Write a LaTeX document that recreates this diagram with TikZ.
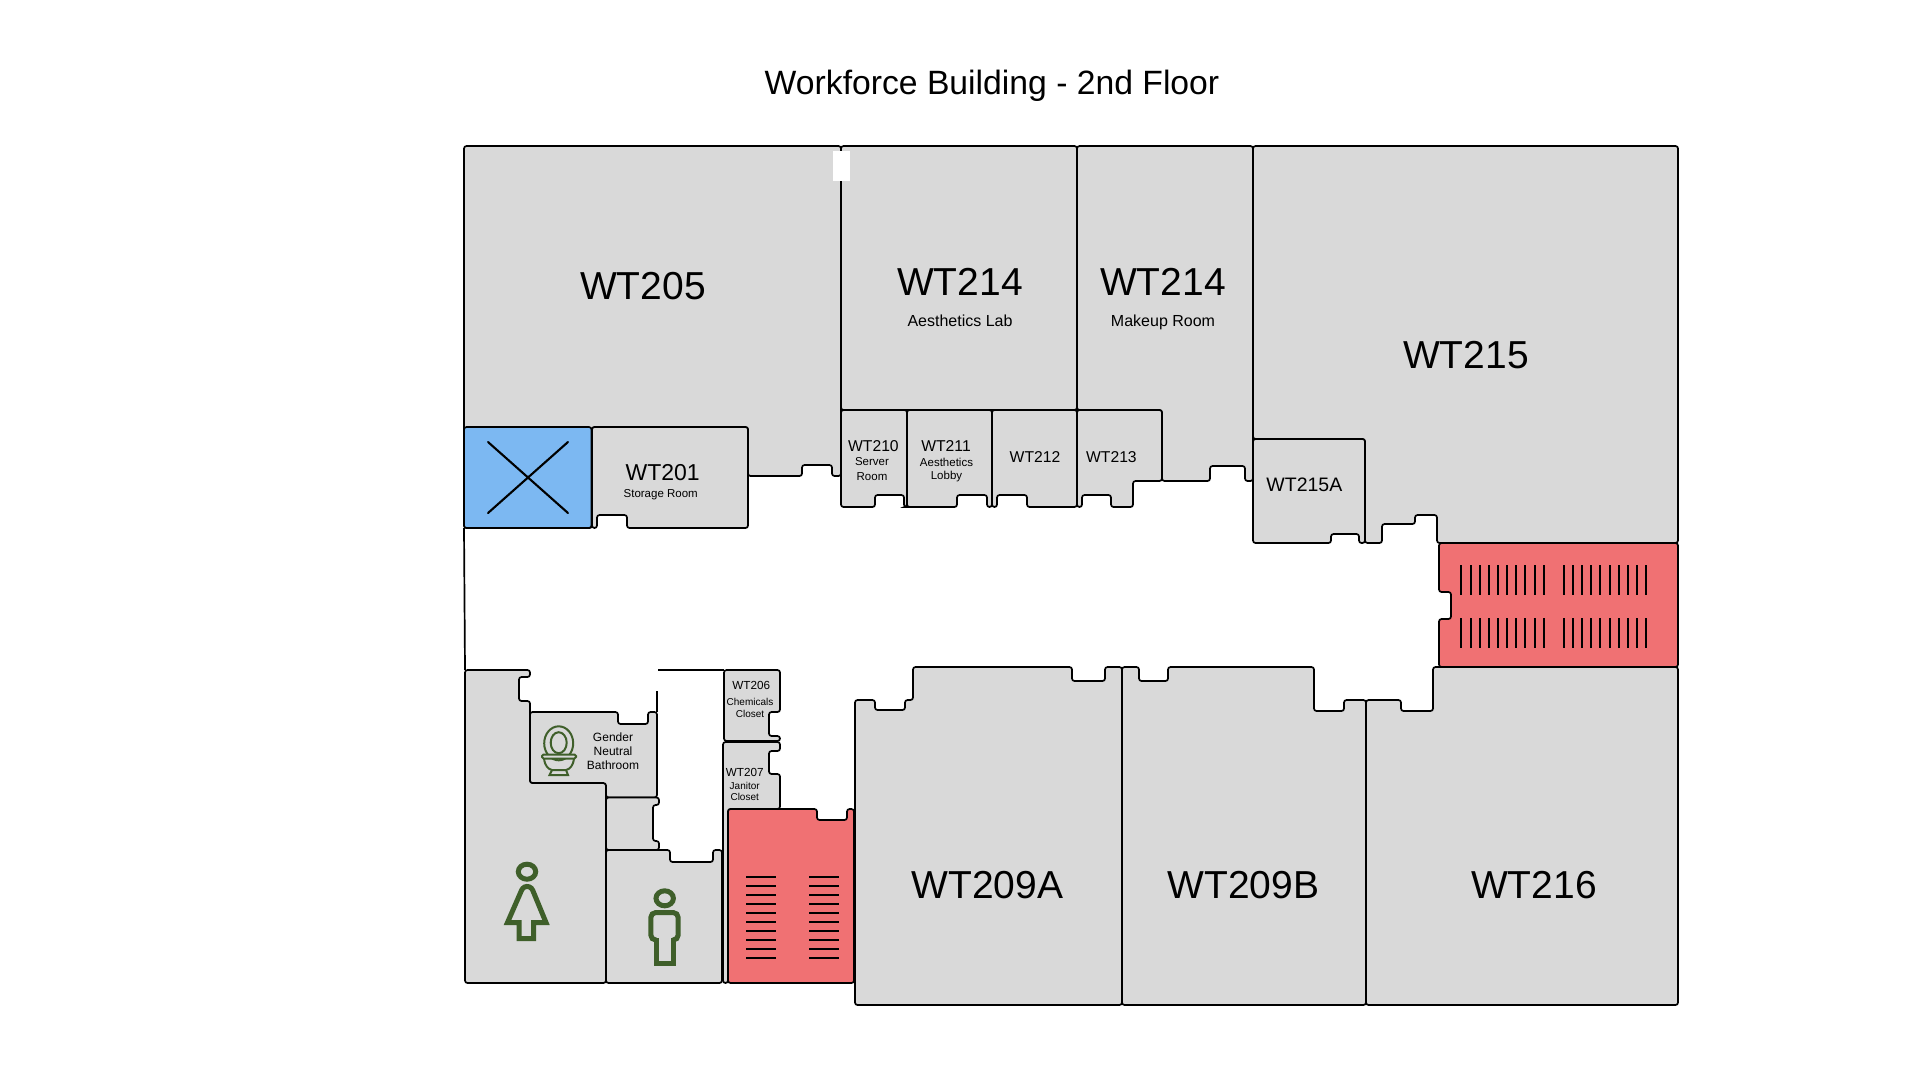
\documentclass[tikz,border=0pt]{standalone}
\usepackage{fontspec}
\setmainfont{Liberation Sans}
\tikzset{
 room/.style={draw=black,line width=1.7pt,fill=roomgray,rounded corners=2.5pt},
 stairs/.style={room,fill=stairred},
 wall/.style={draw=black,line width=1.7pt},
 tread/.style={draw=black,line width=1.8pt},
 figure/.style={draw=icongreen,line width=5pt,line join=miter},
 fixture/.style={draw=icongreen,line width=2pt},
 bigroom/.style={font=\fontsize{39}{39}\selectfont,inner sep=0pt},
 midroom/.style={font=\fontsize{15.7}{16}\selectfont,inner sep=0pt},
 tinyroom/.style={font=\fontsize{11.7}{12}\selectfont,inner sep=0pt},
 caption/.style={font=\fontsize{11.5}{12}\selectfont,inner sep=0pt},
 tinycaption/.style={font=\fontsize{10}{11}\selectfont,inner sep=0pt}
}
\definecolor{roomgray}{HTML}{D9D9D9}
\definecolor{stairred}{HTML}{F07173}
\definecolor{liftblue}{HTML}{7CB8F2}
\definecolor{icongreen}{HTML}{3F5F2A}
\begin{document}
\begin{tikzpicture}[x=1pt,y=-1pt]
 \useasboundingbox (0,0) rectangle (1920,1080);
 \node[font=\fontsize{33.7}{34}\selectfont,inner sep=0pt] (title) at (992,86) {Workforce Building - 2nd Floor};

 \draw[room] (464,146)--(841,146)--(841,476)--(832,476)--(832,465)--(802,465)--(802,476)--(748,476)--(748,427)--(592,427)--(592,528)--(464,528)--cycle;
 \draw[room] (841,146)--(1077,146)--(1077,410)--(841,410)--cycle;
 \draw[room] (1077,146)--(1253,146)--(1253,481)--(1245,481)--(1245,466)--(1210,466)--(1210,481)--(1162,481)--(1162,410)--(1077,410)--cycle;
 \draw[room] (1253,146)--(1678,146)--(1678,543)--(1437,543)--(1437,515)--(1415,515)--(1415,524)--(1382,524)--(1382,543)--(1365,543)--(1365,439)--(1253,439)--cycle;
 \fill[white] (833,151) rectangle (850,181);

 \draw[room] (841,410)--(907,410)--(907,507)--(904,507)--(904,495)--(875,495)--(875,507)--(841,507)--cycle;
 \draw[room] (907,410)--(992,410)--(992,507)--(987,507)--(987,495)--(957,495)--(957,507)--(907,507)--cycle;
 \draw[room] (992,410)--(1077,410)--(1077,507)--(1027,507)--(1027,495)--(997,495)--(997,507)--(992,507)--cycle;
 \draw[room] (1077,410)--(1162,410)--(1162,481)--(1133,481)--(1133,507)--(1111,507)--(1111,495)--(1082,495)--(1082,507)--(1077,507)--cycle;
 \draw[room] (1253,439)--(1365,439)--(1365,543)--(1359,543)--(1359,534)--(1331,534)--(1331,543)--(1253,543)--cycle;

 \draw[room,fill=liftblue] (464,427)--(591.5,427)--(591.5,528)--(464,528)--cycle;
 \draw[wall,line width=2.1pt,line cap=round] (488,513)--(568,442);
 \draw[wall,line width=2.1pt,line cap=round] (488,442)--(568,513);
 \draw[room] (592,427)--(748,427)--(748,528)--(627,528)--(627,515)--(597,515)--(597,528)--(592,528)--cycle;

 \draw[stairs] (1439,543)--(1678,543)--(1678,667)--(1439,667)--(1439,619)--(1451,619)--(1451,592)--(1439,592)--cycle;
 \foreach \xa in {1461.4,1563.8}
  \foreach \i in {0,...,9}{
   \pgfmathsetmacro\xt{round(\xa+\i*9.15)}
   \draw[tread] (\xt,565)--(\xt,595);
   \draw[tread] (\xt,618)--(\xt,648);
  }

 \draw[room] (1678,667)--(1678,1005)--(1366,1005)--(1366,700)--(1401,700)--(1401,711)--(1433,711)--(1433,667)--cycle;
 \draw[room] (1122,667)--(1139,667)--(1139,681)--(1168,681)--(1168,667)--(1314,667)--(1314,711)--(1344,711)--(1344,700)--(1366,700)--(1366,1005)--(1122,1005)--cycle;
 \draw[room] (855,700)--(875,700)--(875,710)--(905,710)--(905,700)--(913,700)--(913,667)--(1072,667)--(1072,681)--(1105,681)--(1105,667)--(1122,667)--(1122,1005)--(855,1005)--cycle;

 \draw[wall] (464,528)--(465,670);
 \draw[wall] (658,670)--(724,670);
 \draw[wall] (657,691)--(657,712);

 \draw[room] (465,670)--(530,670)--(530,677)--(519,677)--(519,701)--(530,701)--(530,783)--(606,783)--(606,983)--(465,983)--cycle;
 \draw[room] (530,712)--(618,712)--(618,724)--(648,724)--(648,712)--(657,712)--(657,797.5)--(606,797.5)--(606,783)--(530,783)--cycle;
 \draw[room] (606,797.5)--(659,797.5)--(659,805)--(653,805)--(653,841)--(659,841)--(659,850)--(606,850)--cycle;
 \draw[room] (606,850)--(670,850)--(670,862)--(713,862)--(713,850)--(722,850)--(722,983)--(606,983)--cycle;
 \draw[room] (724,670)--(780,670)--(780,712)--(769,712)--(769,736)--(780,736)--(780,741)--(724,741)--cycle;
 \draw[room] (723,742)--(780,742)--(780,751)--(769,751)--(769,774)--(780,774)--(780,809)--(728,809)--(728,983)--(723,983)--cycle;
 \draw[stairs] (728,809)--(817,809)--(817,820)--(847,820)--(847,809)--(854,809)--(854,983)--(728,983)--cycle;
 \foreach \ya in {0,...,9}{
  \draw[tread] (746,877+\ya*9)--(776,877+\ya*9);
  \draw[tread] (809,877+\ya*9)--(839,877+\ya*9);
 }

 \draw[figure] (527,871.7) ellipse (8.7 and 7.5);
 \draw[figure] (507.5,922.5)--(521.5,890.4) arc (200:340:6)--(546,922.5)--(533.5,922.5)--(533.5,938.5)--(519,938.5)--(519,922.5)--cycle;
 \draw[figure] (664.7,898.3) ellipse (8.7 and 7.5);
 \draw[figure,rounded corners=5pt] (656,940)--(650.8,940)--(650.8,912.5)--(678.2,912.5)--(678.2,940)--(673,940);
 \draw[figure] (656,938)--(656,963.2)--(673,963.2)--(673,938);

 \draw[fixture] (558.7,743.3) ellipse (14.5 and 17);
 \draw[fixture] (558.7,742.7) ellipse (8 and 10.5);
 \draw[fixture,fill=roomgray,rounded corners=1.5pt] (542,754.5) rectangle (576,758.5);
 \draw[fixture] (544,758.5) .. controls (545,766) and (548,769) .. (552,770)--(566,770) .. controls (570,769) and (573,766) .. (574,758.5);
 \draw[fixture] (552,770)--(549.5,775)--(568,775)--(566,770);

 \node[bigroom] (wt205) at (643,286.5) {WT205};
 \node[bigroom] (wt214a) at (960,281.7) {WT214};
 \node[font=\fontsize{16}{16}\selectfont,inner sep=0pt] (aesthlab) at (960,320.7) {Aesthetics Lab};
 \node[bigroom] (wt214b) at (1163,281.7) {WT214};
 \node[font=\fontsize{16}{16}\selectfont,inner sep=0pt] (makeup) at (1163,322.3) {Makeup Room};
 \node[bigroom] (wt215) at (1466,355) {WT215};
 \node[font=\fontsize{23}{23}\selectfont,inner sep=0pt] (wt201) at (662.7,473) {WT201};
 \node[caption] (storage) at (660.7,494.8) {Storage Room};
 \node[midroom] (wt210) at (873.4,445.7) {WT210};
 \node[caption] (server) at (872,462) {Server};
 \node[caption] (serverb) at (872,476.5) {Room};
 \node[midroom] (wt211) at (946,445.7) {WT211};
 \node[caption] (aesth) at (946.5,462) {Aesthetics};
 \node[caption] (lobby) at (946.5,476.5) {Lobby};
 \node[midroom] (wt212) at (1035,456.7) {WT212};
 \node[midroom] (wt213) at (1111.4,456.7) {WT213};
 \node[font=\fontsize{19.5}{20}\selectfont,inner sep=0pt] (wt215a) at (1304.4,485) {WT215A};
 \node[tinyroom] (wt206) at (751.3,685.7) {WT206};
 \node[tinycaption] (chem) at (750,701.7) {Chemicals};
 \node[tinycaption] (chemb) at (750,713.7) {Closet};
 \node[tinyroom] (wt207) at (744.7,772) {WT207};
 \node[tinycaption] (janitor) at (744.7,785.7) {Janitor};
 \node[tinycaption] (janitorb) at (744.7,797.3) {Closet};
 \node[font=\fontsize{12}{12}\selectfont,inner sep=0pt] (gender) at (613,736.7) {Gender};
 \node[font=\fontsize{12}{12}\selectfont,inner sep=0pt] (neutral) at (613,750.7) {Neutral};
 \node[font=\fontsize{12}{12}\selectfont,inner sep=0pt] (bath) at (613,765) {Bathroom};
 \node[bigroom] (wt209a) at (987.5,885) {WT209A};
 \node[bigroom] (wt209b) at (1243.5,885) {WT209B};
 \node[bigroom] (wt216) at (1534,885) {WT216};
\end{tikzpicture}
\end{document}
